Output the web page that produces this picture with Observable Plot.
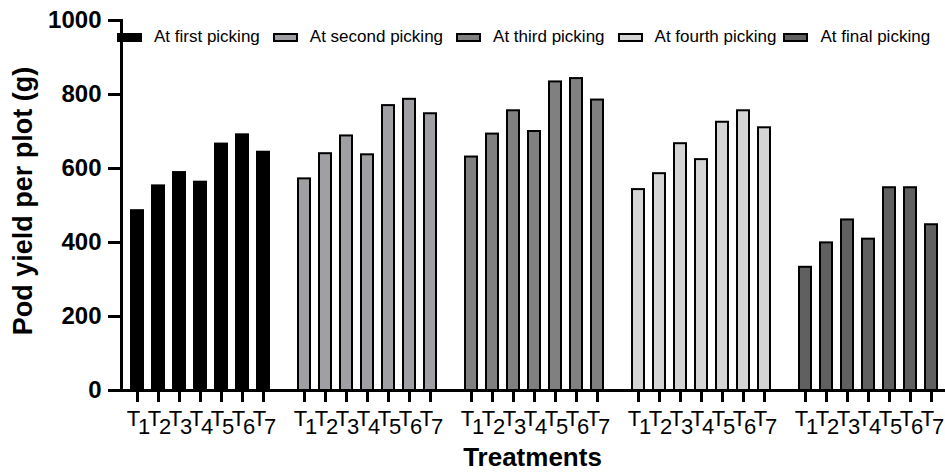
<!DOCTYPE html>
<html>
<head>
<meta charset="utf-8">
<script src="https://cdn.jsdelivr.net/npm/d3@7"></script>
<script src="https://cdn.jsdelivr.net/npm/@observablehq/plot@0.6"></script>
<style>
  html, body { margin: 0; padding: 0; background: #fff; }
  #wrap { position: relative; width: 945px; height: 475px; font-family: "Liberation Sans", Arial, sans-serif; }
  #legend { position: absolute; left: 117px; top: 27px; height: 20px; display: flex; align-items: center; font-size: 17px; color: #000; white-space: nowrap; width: 828px; }
  #legend .item { display: flex; align-items: center; margin-right: 13px; flex: none; }
  #legend .item:nth-child(4) { margin-right: 7px; }
  #legend .sw { width: 21px; height: 5px; border: 2px solid #000; margin-right: 12px; flex: none; }
  #xtitle { position: absolute; left: 120px; width: 825px; top: 442px; text-align: center; font-weight: bold; font-size: 26px; }
  #ytitle { position: absolute; left: 23px; top: 201px; transform: translate(-50%, -50%) rotate(-90deg); white-space: nowrap; font-weight: bold; font-size: 27px; }
  g[aria-label="x-axis tick label"] text { letter-spacing: -2px; }
</style>
</head>
<body>
<div id="wrap"><div id="chart"></div><div id="legend"></div><div id="ytitle">Pod yield per plot (g)</div><div id="xtitle">Treatments</div></div>
<script>
const groups = ["At first picking", "At second picking", "At third picking", "At fourth picking", "At final picking"];
const treatments = ["T1", "T2", "T3", "T4", "T5", "T6", "T7"];
const firstPicking  = [486, 553, 589, 563, 666, 691, 644];
const secondPicking = [572, 640, 688, 637, 770, 787, 748];
const thirdPicking  = [631, 693, 756, 700, 834, 843, 785];
const fourthPicking = [543, 586, 667, 624, 725, 756, 710];
const finalPicking  = [333, 399, 461, 409, 548, 548, 448];
const yTicks = [0, 200, 400, 600, 800, 1000];
const colors = ["#000000", "#a0a0a4", "#808080", "#d4d4d4", "#606060"];

const series = [firstPicking, secondPicking, thirdPicking, fourthPicking, finalPicking];
const data = groups.flatMap((g, gi) => treatments.map((t, ti) => ({group: g, treatment: t, value: series[gi][ti]})));

const chart = Plot.plot({
  width: 945,
  height: 475,
  marginLeft: 127,
  marginRight: 5,
  marginTop: 20,
  marginBottom: 85,
  style: {fontFamily: "Liberation Sans, Arial, sans-serif", color: "#000", background: "#fff"},
  fx: {domain: groups, paddingInner: 0.14, paddingOuter: 0, axis: null, label: null},
  x: {domain: treatments, paddingInner: 0.43, paddingOuter: 0, axis: null},
  y: {domain: [0, 1000], axis: null},
  color: {domain: groups, range: colors},
  marks: [
    Plot.barY(data, {fx: "group", x: "treatment", y: "value", fill: "group", stroke: "#000", strokeWidth: 2}),
    Plot.ruleY([0], {stroke: "#000", strokeWidth: 3, insetLeft: -13, insetRight: -13}),
    Plot.frame({anchor: "left", facetAnchor: "left", dx: -7, stroke: "#000", strokeWidth: 3}),
    Plot.axisY({
      ticks: yTicks, tickSize: 13, tickPadding: 7, dx: -7, strokeWidth: 3,
      fontSize: 24, fontWeight: "bold", facetAnchor: "left",
      tickFormat: d => String(d), label: null
    }),
    Plot.axisX({tickSize: 12, tickPadding: 8, strokeWidth: 3, fontSize: 22, tickFormat: d => d, label: null})
  ]
});
document.getElementById("chart").appendChild(chart);

// render the treatment number as a subscript of "T"
chart.querySelectorAll('g[aria-label="x-axis tick label"] text').forEach(t => {
  const s = t.textContent;
  t.textContent = s.slice(0, 1);
  const sub = document.createElementNS("http://www.w3.org/2000/svg", "tspan");
  sub.setAttribute("dy", "8");
  sub.textContent = s.slice(1);
  t.appendChild(sub);
});

const legend = document.getElementById("legend");
groups.forEach((g, i) => {
  const item = document.createElement("div");
  item.className = "item";
  const sw = document.createElement("div");
  sw.className = "sw";
  sw.style.background = colors[i];
  const tx = document.createElement("span");
  tx.textContent = g;
  item.appendChild(sw);
  item.appendChild(tx);
  legend.appendChild(item);
});
</script>
</body>
</html>
